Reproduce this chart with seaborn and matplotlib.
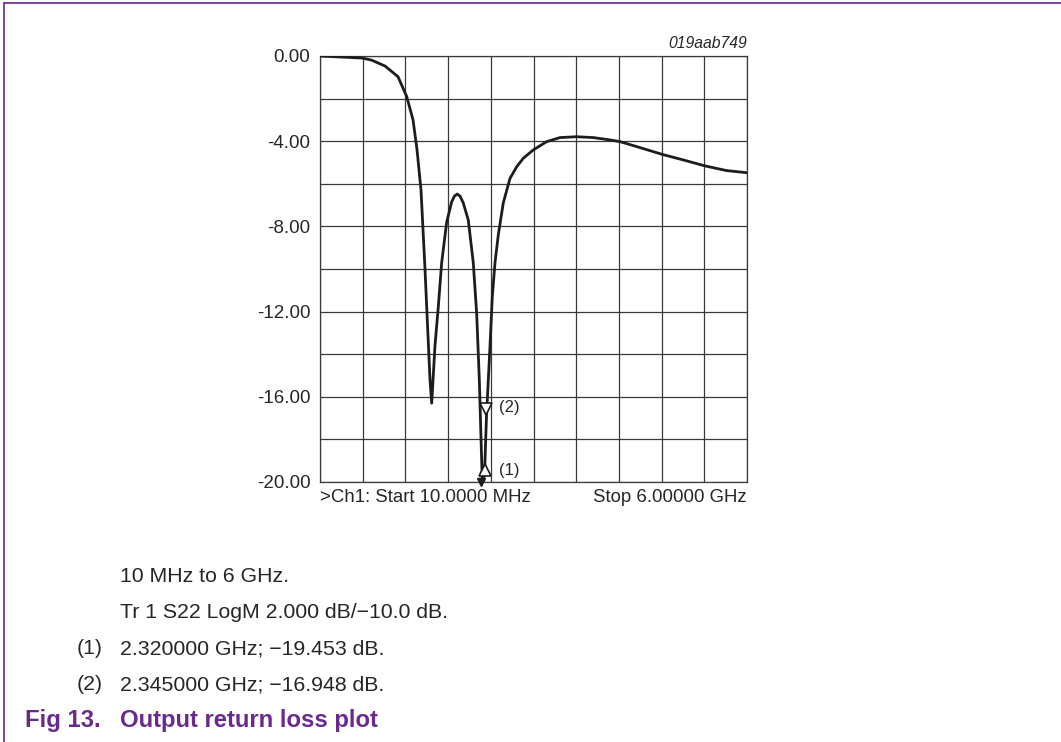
import numpy as np
import pandas as pd
import matplotlib
matplotlib.use('Agg')
import matplotlib.pyplot as plt
import matplotlib.transforms as mtransforms
import seaborn as sns

# S22 trace (GHz, dB)
freq_ghz = [0.01, 0.613, 0.739, 0.922, 1.104, 1.226, 1.315, 1.371, 1.427, 1.483,
            1.511, 1.553, 1.577, 1.623, 1.669, 1.717, 1.787, 1.857, 1.895, 1.936,
            1.975, 2.020, 2.090, 2.160, 2.208, 2.245, 2.269, 2.290, 2.320, 2.345,
            2.395, 2.427, 2.465, 2.511, 2.581, 2.675, 2.769, 2.862, 3.002, 3.190,
            3.377, 3.611, 3.844, 4.078, 4.218, 4.499, 4.812, 5.106, 5.411, 5.715, 6.00]
s22_db = [0.00, -0.10, -0.20, -0.47, -0.97, -1.90, -3.00, -4.40, -6.30, -10.00,
          -12.10, -15.20, -16.30, -13.60, -11.80, -9.70, -7.80, -6.85, -6.58, -6.48,
          -6.58, -6.90, -7.70, -9.70, -12.10, -15.20, -18.00, -20.30, -19.45, -16.95,
          -13.60, -11.30, -9.70, -8.40, -6.90, -5.75, -5.20, -4.80, -4.41, -4.02,
          -3.83, -3.79, -3.83, -3.94, -4.02, -4.30, -4.62, -4.88, -5.16, -5.38, -5.48]

# markers
mk_freq = [2.320, 2.345]
mk_db = [-19.453, -16.948]
mk_names = ['(1)', '(2)']

y_ticks = [0, -2, -4, -6, -8, -10, -12, -14, -16, -18, -20]
y_labels = ['0.00', '', '-4.00', '', '-8.00', '', '-12.00', '', '-16.00', '', '-20.00']

caption_lines = ['10 MHz to 6 GHz.', 'Tr 1 S22 LogM 2.000 dB/\u221210.0 dB.']
marker_notes = ['2.320000 GHz; \u221219.453 dB.', '2.345000 GHz; \u221216.948 dB.']

purple = '#6a2a8c'

df = pd.DataFrame({'freq': freq_ghz, 'db': s22_db})

sns.set_style('white')
plt.rcParams['font.family'] = ['Liberation Sans', 'DejaVu Sans']

fig = plt.figure(figsize=(10.61, 7.42), dpi=100)
ax = fig.add_axes([320/1061, 1-482/742, 427/1061, 426/742])

sns.lineplot(data=df, x='freq', y='db', ax=ax, color='#1c1c1c', lw=2.0, sort=False, zorder=3)

ax.set_xlim(0.01, 6.0)
ax.set_ylim(-20, 0)
ax.set_xticks(np.linspace(0.01, 6.0, 11))
ax.set_xticklabels([])
ax.set_yticks(y_ticks)
ax.set_yticklabels(y_labels, fontsize=13.5)
ax.tick_params(length=0, pad=7)
ax.grid(True, color='#3a3a3a', lw=0.9)
ax.set_xlabel('')
ax.set_ylabel('')
for s in ax.spines.values():
    s.set_color('#3a3a3a')
    s.set_linewidth(0.9)

# marker triangles
down = mtransforms.offset_copy(ax.transData, fig=fig, x=0, y=8, units='dots')
ax.plot(mk_freq[0], mk_db[0], marker='^', ms=9, mfc='white', mec='#1c1c1c', mew=1.2, zorder=4)
ax.plot(mk_freq[1], mk_db[1], marker='v', ms=9, mfc='white', mec='#1c1c1c', mew=1.2,
        transform=down, zorder=4)
ax.text(2.52, mk_db[0], mk_names[0], fontsize=12, va='center', ha='left', zorder=5)
ax.text(2.52, mk_db[1] + 0.45, mk_names[1], fontsize=12, va='center', ha='left', zorder=5,
        bbox=dict(facecolor='white', edgecolor='none', pad=1))
ax.plot(2.27, -20.0, marker='v', ms=6, color='#1c1c1c', clip_on=False, zorder=4)

ax.text(1.0, 1.012, '019aab749', transform=ax.transAxes, ha='right', va='bottom',
        fontsize=11.3, style='italic')
ax.text(0.0, -0.037, '>Ch1: Start 10.0000 MHz', transform=ax.transAxes, ha='left',
        va='center', fontsize=13.4)
ax.text(1.0, -0.037, 'Stop 6.00000 GHz', transform=ax.transAxes, ha='right',
        va='center', fontsize=13.4)

# caption block
fig.text(120/1061, 1-577/742, caption_lines[0], fontsize=15.3, va='center')
fig.text(120/1061, 1-613/742, caption_lines[1], fontsize=15.3, va='center')
for i, note in enumerate(marker_notes):
    yy = 1 - (649 + 36*i)/742
    fig.text(77/1061, yy, mk_names[i], fontsize=15.3, va='center')
    fig.text(120/1061, yy, note, fontsize=15.3, va='center')
fig.text(25/1061, 1-720/742, 'Fig 13.', fontsize=17.2, va='center', color=purple, weight='bold')
fig.text(120/1061, 1-720/742, 'Output return loss plot', fontsize=17.2, va='center',
         color=purple, weight='bold')

# frame lines of the datasheet
fig.add_artist(plt.Line2D([4/1061, 1], [1-3/742, 1-3/742], color=purple, lw=1.2))
fig.add_artist(plt.Line2D([4/1061, 4/1061], [0, 1-3/742], color=purple, lw=1.2))

fig.savefig('out.png', dpi=100)
